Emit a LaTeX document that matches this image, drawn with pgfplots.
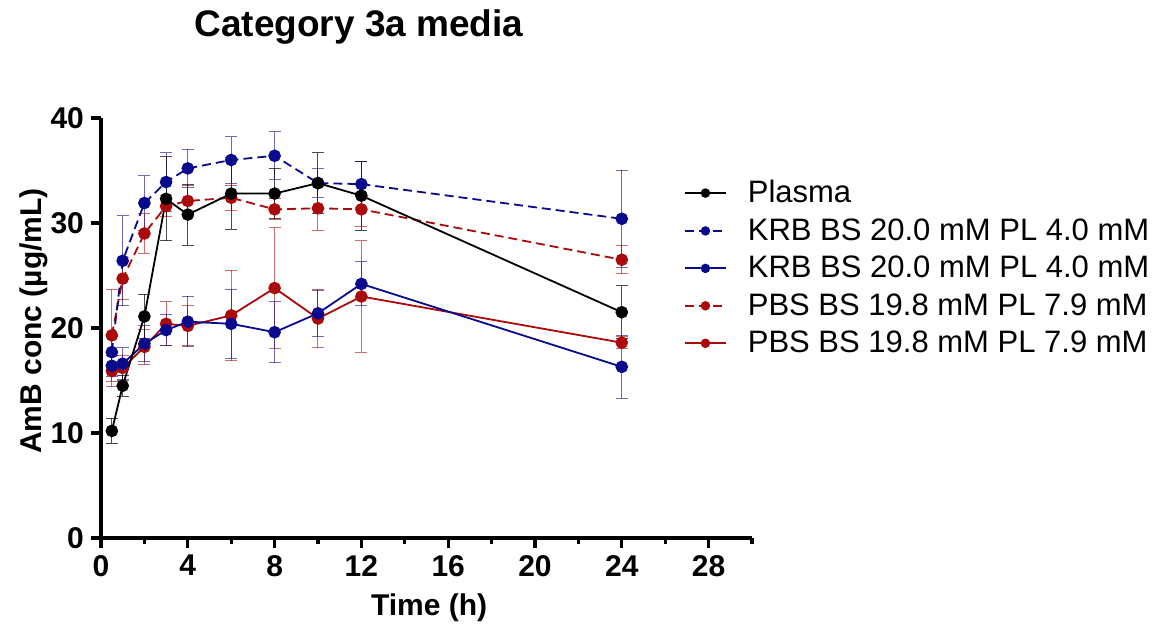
\documentclass[border=0pt]{standalone}
\usepackage{fontspec}
\setmainfont{Liberation Sans}
\usepackage{pgfplots}
\pgfplotsset{compat=1.18}
\definecolor{krb}{RGB}{10,10,140}
\definecolor{pbs}{RGB}{170,10,10}

% time (h), mean, sd
\pgfplotstableread{
x y e
0.5 10.2 1.2
1 14.5 1.0
2 21.1 2.1
3 32.3 4.0
4 30.8 2.9
6 32.8 3.4
8 32.8 2.4
10 33.8 2.9
12 32.6 3.3
24 21.5 2.5
}\plasma
\pgfplotstableread{
x y e
0.5 17.7 1.5
1 26.4 4.3
2 31.9 2.6
3 33.9 2.8
4 35.2 1.8
6 36.0 2.2
8 36.4 2.3
10 33.8 1.4
12 33.7 2.2
24 30.4 4.6
}\krbdash
\pgfplotstableread{
x y e
0.5 16.4 1.0
1 16.6 1.5
2 18.5 1.7
3 19.8 1.5
4 20.6 2.4
6 20.4 3.3
8 19.6 2.9
10 21.4 2.2
12 24.2 2.1
24 16.3 3.0
}\krbsolid
\pgfplotstableread{
x y e
0.5 19.3 4.4
1 24.7 2.0
2 29.0 1.9
3 31.6 1.0
4 32.1 1.5
6 32.4 1.2
8 31.3 1.0
10 31.4 2.1
12 31.3 1.6
24 26.5 1.35
}\pbsdash
\pgfplotstableread{
x y e
0.5 15.9 1.5
1 16.2 1.2
2 18.2 1.7
3 20.4 2.1
4 20.2 1.9
6 21.2 4.3
8 23.8 5.8
10 20.9 2.8
12 23.0 5.3
24 18.6 0.6
}\pbssolid

\begin{document}
\begin{tikzpicture}
\path[use as bounding box] (-50.5pt,-48.5pt) rectangle (532.5pt,269pt);
\begin{axis}[
  at={(0,0)}, anchor=south west,
  scale only axis, width=325.5pt, height=210pt,
  xmin=0, xmax=30, ymin=0, ymax=40,
  axis x line=bottom, axis y line=left,
  axis line style={line width=1.6pt,-},
  xtick={0,4,...,28}, minor xtick={2,6,...,30},
  ytick={0,10,...,40},
  tick style={line width=1.6pt,black},
  major tick length=5pt, minor tick length=3pt,
  tick align=outside,
  /pgf/number format/assume math mode=true,
  ticklabel style={font=\bfseries\fontsize{15}{15}\selectfont},
  xlabel={Time (h)},
  ylabel={AmB conc (µg/mL)},
  label style={font=\bfseries\fontsize{15}{15}\selectfont},
  xlabel style={at={(axis description cs:0.504,0)},anchor=center,yshift=-35pt},
  ylabel style={at={(axis description cs:-0.103,0.517)},anchor=center},
  clip=false,
  reverse legend,
  legend cell align=left,
  legend style={at={(axis description cs:0.895,0.862)},anchor=north west,
    draw=none,fill=none,font=\fontsize{15.5}{18}\selectfont,
    row sep=2.4pt,inner sep=0pt},
  legend image code/.code={\draw[mark repeat=2,mark phase=2,mark size=1.9pt]
    plot coordinates {(0pt,0pt) (10.25pt,0pt) (20.5pt,0pt)};
    \path (29pt,0pt);},
  every axis plot/.append style={line width=0.9pt,mark=*,mark size=2.7pt},
  error bars/y dir=both, error bars/y explicit,
  error bars/error mark options={rotate=90,mark size=3pt,line width=0.5pt},
]
\addplot[pbs,mark options={fill=pbs},
  error bars/error bar style={line width=0.5pt,opacity=0.6}]
  table[x=x,y=y,y error=e] {\pbssolid};
\addlegendentry{PBS BS 19.8 mM PL 7.9 mM}
\addplot[pbs,dash pattern=on 4.5pt off 2.5pt,mark options={solid,fill=pbs},
  error bars/error bar style={solid,line width=0.5pt,opacity=0.6}]
  table[x=x,y=y,y error=e] {\pbsdash};
\addlegendentry{PBS BS 19.8 mM PL 7.9 mM}
\addplot[krb,mark options={fill=krb},
  error bars/error bar style={line width=0.5pt,opacity=0.6}]
  table[x=x,y=y,y error=e] {\krbsolid};
\addlegendentry{KRB BS 20.0 mM PL 4.0 mM}
\addplot[krb,dash pattern=on 4.5pt off 2.5pt,mark options={solid,fill=krb},
  error bars/error bar style={solid,line width=0.5pt,opacity=0.6}]
  table[x=x,y=y,y error=e] {\krbdash};
\addlegendentry{KRB BS 20.0 mM PL 4.0 mM}
\addplot[black,mark options={fill=black},
  error bars/error bar style={line width=0.5pt,opacity=0.7}]
  table[x=x,y=y,y error=e] {\plasma};
\addlegendentry{Plasma}
\end{axis}
\node[font=\bfseries\fontsize{18.5}{20}\selectfont] at (129pt,255.5pt) {Category 3a media};
\end{tikzpicture}
\end{document}
